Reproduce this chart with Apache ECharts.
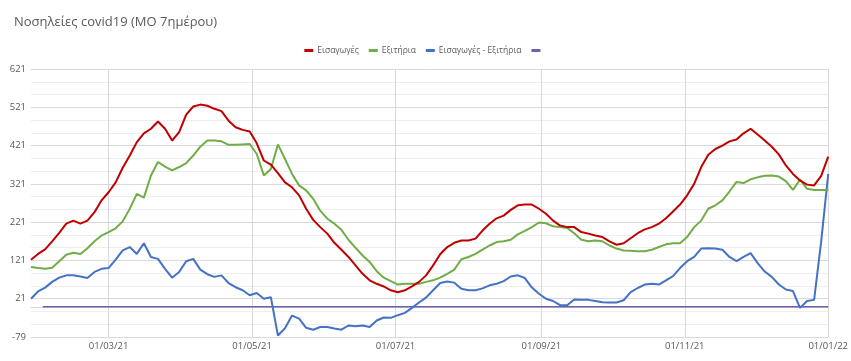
<!DOCTYPE html>
<html><head><meta charset="utf-8">
<script src="https://cdn.jsdelivr.net/npm/echarts@6/dist/echarts.min.js"></script>
<style>html,body{margin:0;padding:0;background:#fff}#c{width:851px;height:361px}</style>
</head><body><div id="c"></div>
<script>
// first day on the axis and number of days shown
const startDate = [2021, 0, 27];
const dayCount = 340;
// values read every 3 days
const sampleStep = 3;

const admissions = [
  123,138,150,171,193,217,225,217,225,247,278,299,325,363,395,430,453,465,484,465,434,456,502,523,528,525,517,511,486,
  469,462,458,427,382,371,349,325,312,291,256,227,208,191,167,149,130,108,86,69,60,53,43,38,43,53,65,82,
  108,137,156,167,173,173,178,199,217,231,238,253,265,267,267,256,243,225,212,208,208,195,191,186,182,171,162,166,
  179,192,202,208,217,231,249,267,291,321,365,397,412,421,432,437,453,465,450,434,418,398,369,347,330,319,317,342,392
];
const discharges = [
  104,101,99,102,119,136,141,138,153,171,186,195,205,223,256,295,285,343,378,366,356,365,375,395,418,434,434,432,423,
  423,424,425,399,343,360,424,386,347,317,304,282,251,230,217,201,175,154,134,117,93,76,67,58,60,60,60,65,
  69,76,86,97,124,130,138,149,160,169,171,175,189,198,208,220,218,210,208,206,192,175,171,173,171,160,152,147,
  146,145,145,149,156,163,166,166,182,208,225,256,265,278,301,326,323,333,338,342,343,340,328,305,332,308,305,305,305
];
const difference = [
  21,40,50,65,76,82,82,79,75,91,99,101,123,147,156,138,166,130,125,99,76,91,119,125,97,85,78,82,62,
  51,43,30,36,21,25,-75,-56,-23,-31,-55,-60,-53,-53,-57,-60,-49,-51,-49,-53,-36,-28,-29,-22,-16,-3,11,24,
  43,62,66,63,47,43,43,48,56,60,67,79,82,75,50,34,21,15,4,4,19,18,18,15,12,11,11,17,
  38,49,58,60,58,69,80,101,119,130,152,153,152,149,130,119,130,140,114,92,78,58,45,41,-3,15,18,170,347
];
const zeroLineDays = [5, 339];
const zeroLineValues = [0, 0];

const seriesNames = ['Εισαγωγές', 'Εξιτήρια', 'Εισαγωγές - Εξιτήρια', ' '];
const labelDates = ['01/03/21','01/05/21','01/07/21','01/09/21','01/11/21','01/01/22'];
const yMin = -79, yMax = 621, yStep = 100;

const pad = n => String(n).padStart(2, '0');
const categories = [];
for (let d = 0; d < dayCount; d++) {
  const dt = new Date(Date.UTC(startDate[0], startDate[1], startDate[2] + d));
  categories.push(pad(dt.getUTCDate()) + '/' + pad(dt.getUTCMonth() + 1) + '/' + String(dt.getUTCFullYear()).slice(2));
}
const showDate = (idx, val) => labelDates.includes(categories[idx]);
const sampled = arr => arr.map((v, i) => [i * sampleStep, v]);

const FONT = '"Open Sans", "Noto Sans", sans-serif';
const chart = echarts.init(document.getElementById('c'), null, {renderer: 'canvas'});
chart.setOption({
  animation: false,
  backgroundColor: '#ffffff',
  title: {
    text: 'Νοσηλείες covid19 (ΜΟ 7ημέρου)',
    left: 9, top: 11,
    textStyle: {fontFamily: FONT, fontSize: 13, fontWeight: 'normal', color: '#595959'}
  },
  legend: {
    data: seriesNames,
    left: 'center', top: 41,
    icon: 'rect', itemWidth: 9, itemHeight: 3, itemGap: 10,
    textStyle: {fontFamily: FONT, fontSize: 8.5, color: '#595959', padding: [0, 0, 0, -1]}
  },
  grid: {left: 31, right: 19, top: 69, bottom: 24, containLabel: false},
  xAxis: {
    type: 'category',
    data: categories,
    boundaryGap: false,
    axisTick: {show: false},
    axisLine: {show: true, lineStyle: {color: '#d9d9d9'}},
    axisLabel: {interval: showDate, fontFamily: FONT, fontSize: 9.5, color: '#595959', margin: 4},
    splitLine: {show: true, interval: showDate, lineStyle: {color: '#d9d9d9', width: 1}}
  },
  yAxis: {
    type: 'value',
    min: yMin, max: yMax, interval: yStep,
    axisLine: {show: false},
    axisTick: {show: false},
    axisLabel: {fontFamily: FONT, fontSize: 9.5, color: '#595959', margin: 5},
    splitLine: {lineStyle: {color: '#d9d9d9', width: 1}},
    minorTick: {show: false, splitNumber: 3},
    minorSplitLine: {show: true, lineStyle: {color: '#eeeeee', width: 1}}
  },
  series: [
    {name: seriesNames[0], type: 'line', data: sampled(admissions), showSymbol: false, color: '#c00000', lineStyle: {width: 2}, z: 4},
    {name: seriesNames[1], type: 'line', data: sampled(discharges), showSymbol: false, color: '#70ad47', lineStyle: {width: 2}, z: 3},
    {name: seriesNames[2], type: 'line', data: sampled(difference), showSymbol: false, color: '#4472c4', lineStyle: {width: 2}, z: 2},
    {name: seriesNames[3], type: 'line', data: zeroLineDays.map((d, i) => [d, zeroLineValues[i]]), showSymbol: false, color: '#7160a8', lineStyle: {width: 1.5}, z: 1}
  ]
});
</script>
</body></html>
